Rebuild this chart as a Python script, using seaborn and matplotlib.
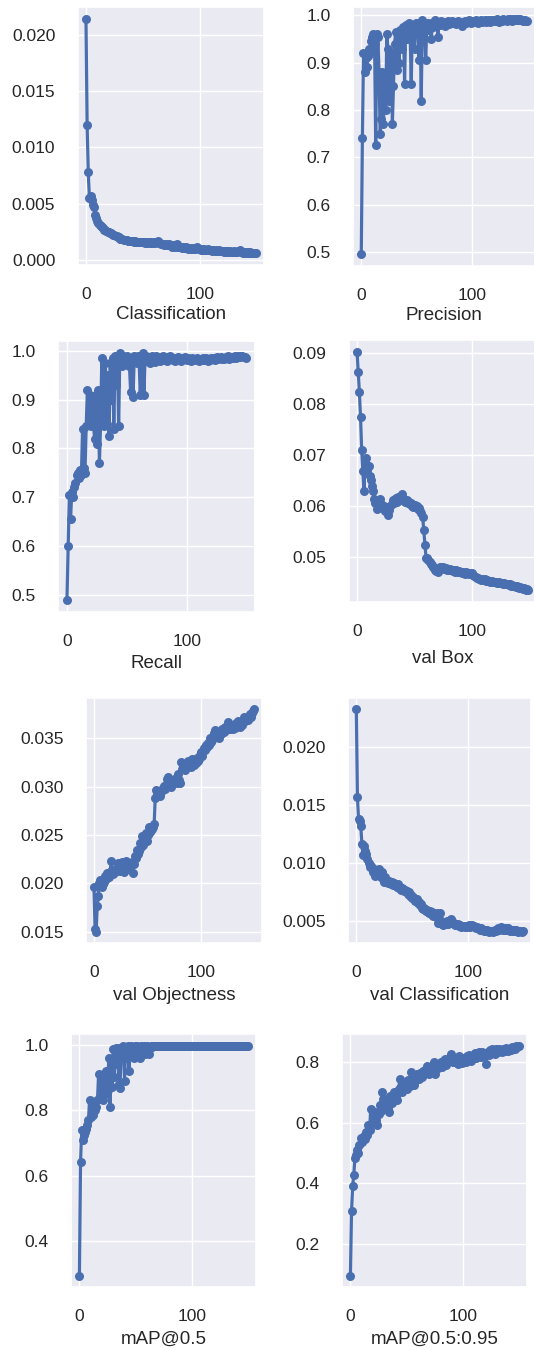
import matplotlib
matplotlib.use("Agg")
import matplotlib.pyplot as plt
import seaborn as sns
import numpy as np
from matplotlib.ticker import MultipleLocator

epochs = list(range(150))

classification = [
    0.0214, 0.0120, 0.0078, 0.0055, 0.0057, 0.0053, 0.0049, 0.0047, 0.0040, 0.0037,
    0.0035, 0.0033, 0.0031, 0.0030, 0.0029, 0.0028, 0.0027, 0.0027, 0.0026, 0.0025,
    0.0025, 0.0024, 0.0024, 0.0023, 0.0022, 0.0022, 0.0021, 0.0021, 0.0020, 0.0020,
    0.0019, 0.0019, 0.0019, 0.0018, 0.0018, 0.0018, 0.0018, 0.0017, 0.0017, 0.0017,
    0.0017, 0.0017, 0.0016, 0.0017, 0.0016, 0.0016, 0.0016, 0.0016, 0.0016, 0.0016,
    0.0016, 0.0016, 0.0015, 0.0016, 0.0015, 0.0016, 0.0015, 0.0016, 0.0015, 0.0015,
    0.0016, 0.0015, 0.0016, 0.0017, 0.0015, 0.0015, 0.0014, 0.0014, 0.0014, 0.0013,
    0.0014, 0.0013, 0.0013, 0.0014, 0.0013, 0.0013, 0.0012, 0.0013, 0.0012, 0.0013,
    0.0014, 0.0012, 0.0012, 0.0012, 0.0011, 0.0012, 0.0011, 0.0011, 0.0012, 0.0011,
    0.0010, 0.0011, 0.0010, 0.0010, 0.0011, 0.0010, 0.0010, 0.0011, 0.0012, 0.0010,
    0.0010, 0.0009, 0.0010, 0.0009, 0.0010, 0.0009, 0.0009, 0.0010, 0.0009, 0.0009,
    0.0009, 0.0008, 0.0009, 0.0008, 0.0009, 0.0008, 0.0008, 0.0009, 0.0008, 0.0008,
    0.0008, 0.0007, 0.0008, 0.0008, 0.0007, 0.0008, 0.0007, 0.0008, 0.0007, 0.0007,
    0.0008, 0.0007, 0.0007, 0.0007, 0.0008, 0.0009, 0.0007, 0.0007, 0.0006, 0.0007,
    0.0007, 0.0006, 0.0007, 0.0006, 0.0007, 0.0006, 0.0006, 0.0006, 0.0006, 0.0006,
]

precision = [
    0.495, 0.740, 0.920, 0.880, 0.910, 0.890, 0.915, 0.930, 0.920, 0.945,
    0.955, 0.960, 0.940, 0.725, 0.960, 0.955, 0.880, 0.750, 0.780, 0.880,
    0.770, 0.870, 0.800, 0.960, 0.930, 0.820, 0.920, 0.910, 0.770, 0.850,
    0.940, 0.965, 0.885, 0.950, 0.900, 0.970, 0.960, 0.930, 0.975, 0.855,
    0.980, 0.950, 0.970, 0.985, 0.960, 0.855, 0.980, 0.975, 0.930, 0.985,
    0.960, 0.970, 0.905, 0.985, 0.820, 0.990, 0.975, 0.980, 0.905, 0.975,
    0.985, 0.970, 0.980, 0.950, 0.985, 0.975, 0.990, 0.980, 0.985, 0.955,
    0.985, 0.980, 0.988, 0.982, 0.985, 0.978, 0.986, 0.984, 0.988, 0.983,
    0.986, 0.984, 0.988, 0.985, 0.987, 0.983, 0.986, 0.988, 0.984, 0.987,
    0.985, 0.978, 0.987, 0.989, 0.985, 0.988, 0.986, 0.990, 0.987, 0.985,
    0.989, 0.986, 0.988, 0.990, 0.987, 0.984, 0.989, 0.988, 0.991, 0.986,
    0.988, 0.990, 0.987, 0.989, 0.991, 0.988, 0.986, 0.990, 0.989, 0.991,
    0.988, 0.990, 0.992, 0.989, 0.987, 0.991, 0.990, 0.988, 0.992, 0.990,
    0.991, 0.989, 0.992, 0.990, 0.993, 0.991, 0.989, 0.992, 0.990, 0.993,
    0.991, 0.992, 0.990, 0.993, 0.991, 0.990, 0.989, 0.990, 0.988, 0.989,
]

recall = [
    0.490, 0.600, 0.705, 0.655, 0.710, 0.700, 0.720, 0.730, 0.745, 0.750,
    0.740, 0.755, 0.745, 0.840, 0.760, 0.750, 0.845, 0.920, 0.850, 0.910,
    0.845, 0.905, 0.850, 0.820, 0.910, 0.810, 0.920, 0.770, 0.850, 0.985,
    0.860, 0.845, 0.975, 0.850, 0.950, 0.825, 0.975, 0.900, 0.985, 0.840,
    0.990, 0.930, 0.985, 0.845, 0.995, 0.980, 0.970, 0.990, 0.980, 0.975,
    0.990, 0.980, 0.970, 0.915, 0.985, 0.905, 0.990, 0.980, 0.975, 0.990,
    0.980, 0.910, 0.975, 0.995, 0.910, 0.985, 0.990, 0.980, 0.985, 0.975,
    0.980, 0.990, 0.985, 0.978, 0.990, 0.982, 0.986, 0.980, 0.988, 0.984,
    0.990, 0.982, 0.985, 0.980, 0.987, 0.983, 0.990, 0.985, 0.982, 0.986,
    0.980, 0.984, 0.988, 0.982, 0.985, 0.980, 0.986, 0.983, 0.988, 0.985,
    0.982, 0.986, 0.984, 0.980, 0.985, 0.983, 0.981, 0.984, 0.986, 0.982,
    0.980, 0.984, 0.982, 0.985, 0.981, 0.983, 0.986, 0.980, 0.984, 0.982,
    0.985, 0.983, 0.986, 0.981, 0.984, 0.987, 0.983, 0.985, 0.988, 0.984,
    0.986, 0.983, 0.987, 0.985, 0.989, 0.984, 0.986, 0.988, 0.985, 0.987,
    0.989, 0.986, 0.990, 0.988, 0.987, 0.990, 0.989, 0.987, 0.988, 0.986,
]

val_box = [
    0.0902, 0.0862, 0.0823, 0.0775, 0.0710, 0.0668, 0.0629, 0.0687, 0.0694, 0.0670,
    0.0678, 0.0658, 0.0650, 0.0639, 0.0628, 0.0613, 0.0606, 0.0594, 0.0600, 0.0610,
    0.0613, 0.0604, 0.0596, 0.0600, 0.0590, 0.0598, 0.0588, 0.0581, 0.0592, 0.0600,
    0.0604, 0.0612, 0.0606, 0.0610, 0.0614, 0.0608, 0.0616, 0.0612, 0.0618, 0.0623,
    0.0615, 0.0611, 0.0607, 0.0612, 0.0605, 0.0608, 0.0603, 0.0606, 0.0600, 0.0598,
    0.0602, 0.0597, 0.0600, 0.0594, 0.0596, 0.0590, 0.0585, 0.0578, 0.0552, 0.0523,
    0.0498, 0.0497, 0.0494, 0.0490, 0.0486, 0.0483, 0.0480, 0.0477, 0.0474, 0.0472,
    0.0470, 0.0476, 0.0479, 0.0480, 0.0478, 0.0479, 0.0476, 0.0477, 0.0474, 0.0475,
    0.0473, 0.0476, 0.0474, 0.0471, 0.0473, 0.0470, 0.0474, 0.0472, 0.0469, 0.0471,
    0.0470, 0.0467, 0.0469, 0.0468, 0.0466, 0.0469, 0.0467, 0.0465, 0.0468, 0.0466,
    0.0467, 0.0464, 0.0462, 0.0460, 0.0457, 0.0458, 0.0455, 0.0456, 0.0454, 0.0455,
    0.0453, 0.0455, 0.0452, 0.0453, 0.0451, 0.0452, 0.0450, 0.0451, 0.0449, 0.0450,
    0.0449, 0.0450, 0.0448, 0.0449, 0.0447, 0.0448, 0.0447, 0.0446, 0.0448, 0.0446,
    0.0445, 0.0446, 0.0444, 0.0445, 0.0443, 0.0444, 0.0442, 0.0443, 0.0441, 0.0442,
    0.0440, 0.0439, 0.0440, 0.0438, 0.0437, 0.0438, 0.0436, 0.0435, 0.0436, 0.0434,
]

val_objectness = [
    0.0196, 0.0153, 0.0150, 0.0177, 0.0187, 0.0200, 0.0204, 0.0196, 0.0199, 0.0202,
    0.0208, 0.0205, 0.0211, 0.0209, 0.0207, 0.0212, 0.0223, 0.0214, 0.0210, 0.0213,
    0.0212, 0.0216, 0.0221, 0.0215, 0.0213, 0.0218, 0.0222, 0.0216, 0.0212, 0.0220,
    0.0223, 0.0218, 0.0221, 0.0215, 0.0219, 0.0222, 0.0211, 0.0220, 0.0228, 0.0226,
    0.0235, 0.0230, 0.0233, 0.0242, 0.0238, 0.0249, 0.0240, 0.0246, 0.0252, 0.0244,
    0.0250, 0.0258, 0.0253, 0.0255, 0.0256, 0.0258, 0.0261, 0.0288, 0.0296, 0.0292,
    0.0295, 0.0290, 0.0294, 0.0297, 0.0299, 0.0301, 0.0298, 0.0302, 0.0308, 0.0310,
    0.0303, 0.0305, 0.0300, 0.0306, 0.0304, 0.0306, 0.0309, 0.0304, 0.0313, 0.0307,
    0.0304, 0.0325, 0.0318, 0.0320, 0.0322, 0.0317, 0.0324, 0.0321, 0.0326, 0.0323,
    0.0320, 0.0328, 0.0326, 0.0322, 0.0327, 0.0324, 0.0330, 0.0326, 0.0329, 0.0333,
    0.0336, 0.0332, 0.0340, 0.0338, 0.0343, 0.0341, 0.0345, 0.0343, 0.0350, 0.0346,
    0.0348, 0.0352, 0.0355, 0.0358, 0.0352, 0.0355, 0.0350, 0.0356, 0.0354, 0.0359,
    0.0360, 0.0356, 0.0362, 0.0358, 0.0361, 0.0367, 0.0362, 0.0359, 0.0363, 0.0360,
    0.0364, 0.0361, 0.0366, 0.0363, 0.0368, 0.0365, 0.0362, 0.0367, 0.0364, 0.0369,
    0.0372, 0.0368, 0.0371, 0.0369, 0.0373, 0.0375, 0.0372, 0.0376, 0.0378, 0.0380,
]

val_classification = [
    0.0233, 0.0157, 0.0138, 0.0137, 0.0132, 0.0117, 0.0107, 0.0115, 0.0111, 0.0108,
    0.0104, 0.0100, 0.0097, 0.0098, 0.0096, 0.0093, 0.0095, 0.0089, 0.0092, 0.0090,
    0.0095, 0.0091, 0.0088, 0.0093, 0.0087, 0.0084, 0.0088, 0.0086, 0.0083, 0.0085,
    0.0083, 0.0082, 0.0084, 0.0081, 0.0083, 0.0081, 0.0080, 0.0082, 0.0079, 0.0080,
    0.0077, 0.0079, 0.0078, 0.0076, 0.0077, 0.0076, 0.0074, 0.0075, 0.0072, 0.0073,
    0.0070, 0.0071, 0.0069, 0.0068, 0.0069, 0.0066, 0.0067, 0.0064, 0.0065, 0.0062,
    0.0061, 0.0062, 0.0059, 0.0060, 0.0058, 0.0057, 0.0059, 0.0056, 0.0058, 0.0055,
    0.0056, 0.0054, 0.0057, 0.0049, 0.0052, 0.0057, 0.0050, 0.0048, 0.0047, 0.0049,
    0.0048, 0.0050, 0.0048, 0.0049, 0.0051, 0.0052, 0.0050, 0.0049, 0.0047, 0.0048,
    0.0047, 0.0048, 0.0046, 0.0047, 0.0045, 0.0046, 0.0046, 0.0045, 0.0046, 0.0045,
    0.0046, 0.0047, 0.0045, 0.0046, 0.0047, 0.0046, 0.0045, 0.0044, 0.0045, 0.0044,
    0.0044, 0.0043, 0.0044, 0.0043, 0.0042, 0.0043, 0.0042, 0.0043, 0.0042, 0.0041,
    0.0042, 0.0042, 0.0041, 0.0042, 0.0043, 0.0042, 0.0043, 0.0044, 0.0043, 0.0044,
    0.0045, 0.0043, 0.0044, 0.0043, 0.0044, 0.0043, 0.0044, 0.0043, 0.0042, 0.0043,
    0.0042, 0.0043, 0.0042, 0.0043, 0.0042, 0.0041, 0.0042, 0.0042, 0.0041, 0.0042,
]

map50 = [
    0.296, 0.642, 0.739, 0.708, 0.723, 0.733, 0.744, 0.754, 0.769, 0.830,
    0.779, 0.800, 0.785, 0.820, 0.800, 0.810, 0.830, 0.910, 0.840, 0.860,
    0.890, 0.830, 0.900, 0.850, 0.920, 0.860, 0.960, 0.810, 0.950, 0.870,
    0.985, 0.900, 0.990, 0.940, 0.990, 0.880, 0.866, 0.990, 0.960, 0.995,
    0.890, 0.990, 0.960, 0.995, 0.920, 0.990, 0.995, 0.975, 0.960, 0.995,
    0.990, 0.995, 0.980, 0.993, 0.960, 0.995, 0.990, 0.996, 0.970, 0.993,
    0.995, 0.990, 0.970, 0.995, 0.993, 0.996, 0.994, 0.995, 0.996, 0.994,
    0.995, 0.996, 0.994, 0.996, 0.995, 0.997, 0.995, 0.996, 0.994, 0.996,
    0.995, 0.996, 0.997, 0.995, 0.996, 0.994, 0.996, 0.995, 0.997, 0.996,
    0.995, 0.996, 0.994, 0.996, 0.995, 0.997, 0.996, 0.995, 0.996, 0.994,
    0.996, 0.995, 0.997, 0.996, 0.995, 0.996, 0.994, 0.996, 0.995, 0.997,
    0.995, 0.996, 0.994, 0.996, 0.997, 0.995, 0.996, 0.995, 0.994, 0.996,
    0.995, 0.997, 0.996, 0.995, 0.996, 0.994, 0.996, 0.995, 0.997, 0.996,
    0.995, 0.996, 0.994, 0.996, 0.995, 0.997, 0.996, 0.995, 0.996, 0.994,
    0.996, 0.995, 0.997, 0.996, 0.995, 0.996, 0.994, 0.996, 0.995, 0.996,
]

map50_95 = [
    0.096, 0.309, 0.391, 0.429, 0.484, 0.495, 0.511, 0.500, 0.527, 0.549,
    0.535, 0.545, 0.555, 0.548, 0.571, 0.560, 0.593, 0.575, 0.647, 0.600,
    0.604, 0.620, 0.636, 0.610, 0.593, 0.630, 0.660, 0.640, 0.700, 0.680,
    0.658, 0.670, 0.680, 0.650, 0.636, 0.690, 0.680, 0.665, 0.690, 0.700,
    0.690, 0.675, 0.700, 0.710, 0.745, 0.720, 0.700, 0.730, 0.725, 0.715,
    0.713, 0.740, 0.735, 0.720, 0.767, 0.745, 0.725, 0.750, 0.740, 0.760,
    0.755, 0.745, 0.765, 0.750, 0.770, 0.760, 0.775, 0.765, 0.789, 0.770,
    0.760, 0.780, 0.775, 0.790, 0.800, 0.762, 0.785, 0.795, 0.780, 0.790,
    0.800, 0.785, 0.805, 0.795, 0.812, 0.790, 0.800, 0.815, 0.805, 0.827,
    0.810, 0.800, 0.800, 0.815, 0.805, 0.795, 0.820, 0.802, 0.810, 0.798,
    0.805, 0.815, 0.800, 0.820, 0.810, 0.825, 0.812, 0.805, 0.820, 0.815,
    0.830, 0.815, 0.825, 0.820, 0.835, 0.828, 0.818, 0.832, 0.825, 0.830,
    0.795, 0.830, 0.835, 0.825, 0.840, 0.845, 0.830, 0.838, 0.828, 0.842,
    0.840, 0.835, 0.845, 0.838, 0.832, 0.845, 0.840, 0.836, 0.848, 0.842,
    0.838, 0.845, 0.840, 0.850, 0.843, 0.848, 0.845, 0.852, 0.850, 0.855,
]

titles = ["Classification", "Precision", "Recall", "val Box",
          "val Objectness", "val Classification", "mAP@0.5", "mAP@0.5:0.95"]
series = [classification, precision, recall, val_box,
          val_objectness, val_classification, map50, map50_95]
ytick_steps = [0.005, 0.1, 0.1, 0.01, 0.005, 0.005, 0.2, 0.2]

sns.set_theme(style="darkgrid")
plt.rcParams["font.family"] = ["Liberation Sans", "DejaVu Sans"]

W, H = 534, 1350
fig = plt.figure(figsize=(W / 100, H / 100), dpi=100)

# axes boxes in pixels: left, top, right, bottom
boxes = [
    (77.5, 7, 264, 265),
    (353, 7, 535, 266),
    (58, 341, 255, 612),
    (348.5, 340, 537, 602),
    (86, 698, 262, 943),
    (348, 698, 531, 943),
    (71, 1034, 256, 1287),
    (342, 1034, 527, 1287),
]
labelpads = [3, 3, 4, 8, 5, 5, 5, 5]

color = "#4a6fb0"
for i, (title, vals) in enumerate(zip(titles, series)):
    l, t, r, b = boxes[i]
    ax = fig.add_axes([l / W, 1 - b / H, (r - l) / W, (b - t) / H])
    sns.lineplot(x=epochs, y=vals, ax=ax, color=color, linewidth=2.3,
                 marker="o", markersize=6.5, markeredgewidth=0)
    ax.xaxis.set_major_locator(MultipleLocator(100))
    ax.yaxis.set_major_locator(MultipleLocator(ytick_steps[i]))
    ax.tick_params(axis="both", labelsize=12.5, pad=10, colors="#262626")
    ax.set_xlabel(title, fontsize=13.5, labelpad=labelpads[i], color="#262626")
    ax.set_ylabel("")

fig.savefig("out.png", dpi=100)
